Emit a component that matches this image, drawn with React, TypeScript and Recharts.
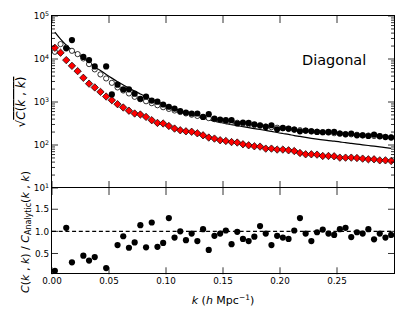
import React from "react";
import { ComposedChart, Scatter, Line, XAxis, YAxis, ReferenceLine } from "recharts";

// wavenumber bins (h/Mpc)
const kValues = [
  0.0025, 0.0075, 0.0125, 0.0175, 0.0225, 0.0275, 0.0325, 0.0375, 0.0425, 0.0475,
  0.0525, 0.0575, 0.0625, 0.0675, 0.0725, 0.0775, 0.0825, 0.0875, 0.0925, 0.0975,
  0.1025, 0.1075, 0.1125, 0.1175, 0.1225, 0.1275, 0.1325, 0.1375, 0.1425, 0.1475,
  0.1525, 0.1575, 0.1625, 0.1675, 0.1725, 0.1775, 0.1825, 0.1875, 0.1925, 0.1975,
  0.2025, 0.2075, 0.2125, 0.2175, 0.2225, 0.2275, 0.2325, 0.2375, 0.2425, 0.2475,
  0.2525, 0.2575, 0.2625, 0.2675, 0.2725, 0.2775, 0.2825, 0.2875, 0.2925, 0.2975,
];

// analytic curve (solid line)
const analytic = [
  42400, 29100, 21100, 16100, 13000, 10500, 8340, 6650, 5370, 4380,
  3590, 2970, 2490, 2100, 1790, 1540, 1330, 1160, 1020, 898,
  798, 709, 634, 569, 514, 467, 426, 391, 359, 334,
  315, 297, 282, 267, 253, 240, 229, 218, 207, 195,
  185, 176, 166, 158, 150, 143, 137, 132, 127, 123,
  118, 113, 109, 105, 101, 97.3, 93.8, 90.3, 86.9, 83.8,
];

// open circles
const openCircles = [
  14700, 22200, 18400, 15500, 13000, 10300, 7600, 5730, 4380, 3530,
  2790, 2180, 1850, 1580, 1320, 1160, 1040, 938, 841, 756,
  691, 634, 585, 542, 506, 474, 447, 421, 399, 378,
  361, 344, 329, 315, 302, 291, 280, 270, 260, 252,
  244, 236, 229, 221, 215, 210, 204, 199, 194, 188,
  185, 180, 177, 173, 169, 166, 162, 159, 155, 152,
];

// filled circles (null = not shown)
const filledCircles = [
  null, null, 17700, 27600, null, 11200, 9420, 6710, null, 6710,
  1500, 2530, 1970, 1970, 1560, 1190, 1340, 1080, 1020, 875,
  776, 705, 611, 569, 540, 540, 450, 520, 412, 391,
  377, 377, 316, 333, 326, 304, 288, 263, 288, 232,
  249, 241, 229, 208, 217, 208, 201, 198, 201, 201,
  185, 177, 185, 168, 168, 162, 175, 160, 153, 149,
];

// red diamonds
const diamonds = [
  18200, 14000, 9420, 6930, 5220, 3650, 2670, 2180, 1720, 1340,
  1100, 889, 745, 627, 540, 512, 450, 377, 326, 316,
  277, 241, 220, 208, 203, 187, 168, 149, 141, 129,
  124, 117, 114, 104, 98.4, 93.3, 91.8, 82.4, 82.4, 78.2,
  78.2, 75.2, 72.4, 65.2, 60.7, 60.7, 59.7, 55.5, 55.5, 54.6,
  50.8, 50.8, 50.8, 49.8, 48.2, 46.5, 46.5, 44.0, 44.0, 42.4,
];

// lower panel ratio
const ratio = [
  0.11, null, 1.08, 0.3, null, 0.45, 0.34, 0.42, null, 0.17,
  null, 0.69, 0.89, 0.63, 0.75, 1.14, 0.64, 1.2, 0.65, 0.74,
  1.3, 0.86, 1.0, 0.8, 0.95, 0.78, 1.05, 0.58, 0.9, 0.95,
  1.02, 0.71, 0.99, 0.83, 0.78, 0.88, 1.12, 0.95, 0.69, 0.9,
  0.86, 0.83, 1.02, 1.3, 0.95, 0.78, 0.98, 1.04, 0.95, 0.92,
  1.05, 1.08, 0.87, 0.98, 0.95, 1.05, 0.82, 0.95, 0.86, 0.92,
];

const kTicks = [0, 0.05, 0.1, 0.15, 0.2, 0.25];
const decadeTicks = [10, 100, 1000, 10000, 100000];
const decadeExponents = ["1", "2", "3", "4", "5"];
const logTicks = [
  10, 20, 30, 40, 50, 60, 70, 80, 90,
  100, 200, 300, 400, 500, 600, 700, 800, 900,
  1000, 2000, 3000, 4000, 5000, 6000, 7000, 8000, 9000,
  10000, 20000, 30000, 40000, 50000, 60000, 70000, 80000, 90000,
  100000,
];
const ratioTicks = [0.5, 1.0, 1.5];

const toPoints = (vals: (number | null)[]) =>
  kValues.map((k, i) => ({ k, v: vals[i] })).filter((d) => d.v != null);

const W = 415;
const H = 312;
const PL = 52;
const PR = 394;
const TOP_T = 16;
const MID = 188;
const BOT_B = 274.3;
const FONT = "'DejaVu Sans', sans-serif";
const TICK_FS = 8.8;
const AX = 1; // thickness reserved for the (invisible) axes

const FilledDot = (p: any) => <circle cx={p.cx} cy={p.cy} r={3.1} fill="#000" />;
const OpenDot = (p: any) => (
  <circle cx={p.cx} cy={p.cy} r={2.6} fill="#fff" stroke="#000" strokeWidth={0.8} />
);
const Diamond = (p: any) => {
  const s = 3.7;
  return (
    <path
      d={`M${p.cx},${p.cy - s}L${p.cx + s},${p.cy}L${p.cx},${p.cy + s}L${p.cx - s},${p.cy}Z`}
      fill="#ff0000"
      stroke="#000"
      strokeWidth={0.7}
    />
  );
};

function TopYTick(props: any) {
  const { y, payload } = props;
  const i = decadeTicks.indexOf(payload.value);
  const len = i >= 0 ? 6 : 3;
  return (
    <g>
      <line x1={PL} x2={PL + len} y1={y} y2={y} stroke="#000" strokeWidth={0.8} />
      <line x1={PR} x2={PR - len} y1={y} y2={y} stroke="#000" strokeWidth={0.8} />
      {i >= 0 && (
        <text x={PL - 3} y={y + 3.2} textAnchor="end" fontSize={TICK_FS} fontFamily={FONT} fill="#000">
          10
          <tspan dy={-3} fontSize={6.3}>
            {decadeExponents[i]}
          </tspan>
        </text>
      )}
    </g>
  );
}

function TopXTick(props: any) {
  const { x } = props;
  return (
    <g>
      <line x1={x} x2={x} y1={MID} y2={MID - 7} stroke="#000" strokeWidth={0.8} />
      <line x1={x} x2={x} y1={TOP_T} y2={TOP_T + 7} stroke="#000" strokeWidth={0.8} />
    </g>
  );
}

function BottomXTick(props: any) {
  const { x, payload } = props;
  return (
    <g>
      <line x1={x} x2={x} y1={BOT_B} y2={BOT_B - 7} stroke="#000" strokeWidth={0.8} />
      <line x1={x} x2={x} y1={MID} y2={MID + 7} stroke="#000" strokeWidth={0.8} />
      <text x={x} y={284} textAnchor="middle" fontSize={TICK_FS} fontFamily={FONT} fill="#000">
        {Number(payload.value).toFixed(2)}
      </text>
    </g>
  );
}

function BottomYTick(props: any) {
  const { y, payload } = props;
  return (
    <g>
      <line x1={PL} x2={PL + 6} y1={y} y2={y} stroke="#000" strokeWidth={0.8} />
      <line x1={PR} x2={PR - 6} y1={y} y2={y} stroke="#000" strokeWidth={0.8} />
      <text x={PL - 3} y={y + 3.2} textAnchor="end" fontSize={TICK_FS} fontFamily={FONT} fill="#000">
        {Number(payload.value).toFixed(1)}
      </text>
    </g>
  );
}

export default function App() {
  const lineData = toPoints(analytic);
  const openData = toPoints(openCircles);
  const filledData = toPoints(filledCircles);
  const diamondData = toPoints(diamonds);
  const ratioData = toPoints(ratio);

  return (
    <div style={{ position: "absolute", left: 0, top: 0, width: W, height: H, background: "#fff" }}>
      {/* upper panel */}
      <div style={{ position: "absolute", left: 0, top: 0 }}>
        <ComposedChart
          width={W}
          height={200}
          margin={{ top: TOP_T, right: W - PR, bottom: 200 - MID - AX, left: PL - AX }}
        >
          <XAxis
            dataKey="k"
            type="number"
            domain={[0, 0.3]}
            allowDataOverflow
            ticks={kTicks}
            interval={0}
            height={AX}
            axisLine={false}
            tickLine={false}
            tick={(p: any) => <TopXTick {...p} />}
          />
          <YAxis
            dataKey="v"
            type="number"
            scale="log"
            domain={[10, 100000]}
            allowDataOverflow
            ticks={logTicks}
            interval={0}
            width={AX}
            axisLine={false}
            tickLine={false}
            tick={(p: any) => <TopYTick {...p} />}
          />
          <Line
            data={lineData}
            dataKey="v"
            type="monotone"
            stroke="#000"
            strokeWidth={1.2}
            dot={false}
            isAnimationActive={false}
          />
          <Scatter data={openData} dataKey="v" shape={OpenDot} isAnimationActive={false} />
          <Scatter data={diamondData} dataKey="v" shape={Diamond} isAnimationActive={false} />
          <Scatter data={filledData} dataKey="v" shape={FilledDot} isAnimationActive={false} />
        </ComposedChart>
      </div>

      {/* lower panel */}
      <div style={{ position: "absolute", left: 0, top: 0 }}>
        <ComposedChart
          width={W}
          height={H}
          margin={{ top: MID, right: W - PR, bottom: H - BOT_B - AX, left: PL - AX }}
        >
          <XAxis
            dataKey="k"
            type="number"
            domain={[0, 0.3]}
            allowDataOverflow
            ticks={kTicks}
            interval={0}
            height={AX}
            axisLine={false}
            tickLine={false}
            tick={(p: any) => <BottomXTick {...p} />}
          />
          <YAxis
            dataKey="v"
            type="number"
            domain={[0.03, 1.98]}
            allowDataOverflow
            ticks={ratioTicks}
            interval={0}
            width={AX}
            axisLine={false}
            tickLine={false}
            tick={(p: any) => <BottomYTick {...p} />}
          />
          <ReferenceLine y={1} stroke="#000" strokeWidth={1.2} strokeDasharray="4 2.7" />
          <Scatter data={ratioData} dataKey="v" shape={FilledDot} isAnimationActive={false} />
        </ComposedChart>
      </div>

      {/* frames and labels */}
      <svg
        width={W}
        height={H}
        style={{ position: "absolute", left: 0, top: 0, pointerEvents: "none" }}
        fontFamily={FONT}
      >
        <rect
          x={PL - 0.5}
          y={TOP_T - 0.5}
          width={PR - PL + 1}
          height={MID - TOP_T}
          fill="none"
          stroke="#000"
          strokeWidth={1}
        />
        <rect
          x={PL - 0.5}
          y={MID - 0.5}
          width={PR - PL + 1}
          height={Math.round(BOT_B - MID)}
          fill="none"
          stroke="#000"
          strokeWidth={1}
        />

        <text x={302} y={65} fontSize={14.5} fill="#000">
          Diagonal
        </text>

        <text transform="translate(25,102) rotate(-90)" textAnchor="middle" fontSize={12} fill="#000">
          {"\u221A"}
          <tspan style={{ textDecoration: "overline" }}>
            <tspan fontStyle="italic">C</tspan>
            {"("}
            <tspan fontStyle="italic">k</tspan>
            {" , "}
            <tspan fontStyle="italic">k</tspan>
            {")"}
          </tspan>
        </text>

        <text transform="translate(28.5,232) rotate(-90)" textAnchor="middle" fontSize={11} fill="#000">
          <tspan fontStyle="italic">C</tspan>
          {"("}
          <tspan fontStyle="italic">k</tspan>
          {" , "}
          <tspan fontStyle="italic">k</tspan>
          {") / "}
          <tspan fontStyle="italic">C</tspan>
          <tspan fontSize={8} dy={2.5}>
            Analytic
          </tspan>
          <tspan dy={-2.5}>(</tspan>
          <tspan fontStyle="italic">k</tspan>
          {" , "}
          <tspan fontStyle="italic">k</tspan>
          {")"}
        </text>

        <text x={223} y={304} textAnchor="middle" fontSize={11} fill="#000">
          <tspan fontStyle="italic">k</tspan>
          {" ("}
          <tspan fontStyle="italic">h</tspan>
          {" Mpc"}
          <tspan dy={-4} fontSize={7.5}>
            {"\u22121"}
          </tspan>
          <tspan dy={4}>)</tspan>
        </text>
      </svg>
    </div>
  );
}
